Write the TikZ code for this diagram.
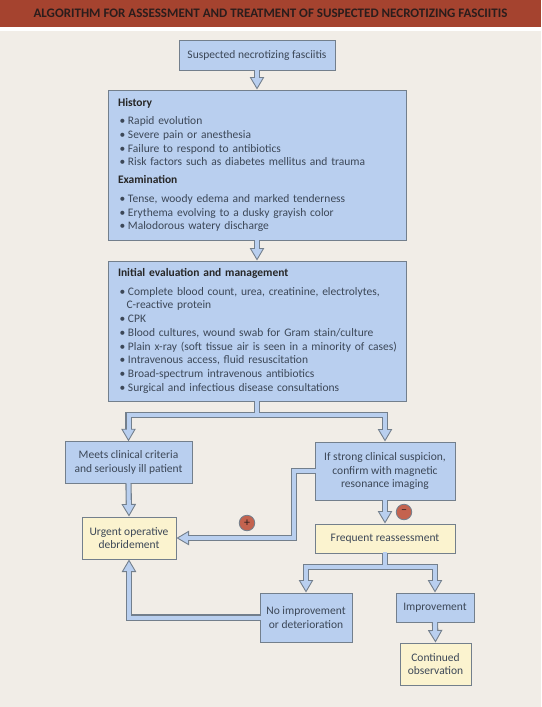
\documentclass[tikz,border=0pt]{standalone}
\usepackage{fontspec}
\setmainfont{Carlito}
\usetikzlibrary{arrows.meta}
\definecolor{bgc}{HTML}{F1EDE7}
\definecolor{hdr}{HTML}{A5432F}
\definecolor{hdrtx}{HTML}{2B1D1C}
\definecolor{blu}{HTML}{B9CFEF}
\definecolor{yel}{HTML}{FBF3CF}
\definecolor{edg}{HTML}{737F8C}
\definecolor{txc}{HTML}{3C4757}
\definecolor{crc}{HTML}{C4634F}
\tikzset{
  x=1pt,y=-1pt,
  anybox/.style={draw=edg,line width=1pt,text=txc,inner sep=0pt,align=center,font=\fontsize{11.5}{13.75}\selectfont},
  bluebox/.style={anybox,fill=blu},
  yelbox/.style={anybox,fill=yel},
  listbox/.style={bluebox,align=left,text width=298pt,inner xsep=0pt},
  fatout/.style={draw=edg,line width=6.2pt,line join=miter,-{Triangle[width=14.5pt,length=12.5pt,fill=blu,color=edg,line width=.9pt]},shorten <=-.4pt},
  fatin/.style={draw=blu,line width=4pt,line join=miter,shorten >=10.5pt,shorten <=-1.2pt},
  sign/.style={circle,draw=edg,fill=crc,line width=.8pt,minimum size=15.5pt,inner sep=0pt,text=hdrtx,font=\fontsize{12}{12}\selectfont},
}
\newcommand\itm[1]{\makebox[10pt][l]{\hspace*{1.5pt}\textbullet}#1}
\newcommand\hd[1]{\textbf{\textcolor{black!85}{#1}}}
\begin{document}
\begin{tikzpicture}
\useasboundingbox (0,0) rectangle (541,707);
\fill[bgc] (0,0) rectangle (541,707);
\fill[white] (0,26) rectangle (541,31);
\node[fill=hdr,minimum width=541pt,minimum height=26.5pt,inner sep=0pt,text=hdrtx,font=\fontsize{13}{14}\selectfont\bfseries] (title) at (270.5,13.25) {ALGORITHM FOR ASSESSMENT AND TREATMENT OF SUSPECTED NECROTIZING FASCIITIS};

\node[bluebox,minimum width=156pt,minimum height=29.5pt] (start) at (257,55.5) {Suspected necrotizing fasciitis};
\node[listbox,minimum height=150pt] (hist) at (257,165) {\hspace*{10pt}\hd{History}\\[4.6pt]
\hspace*{10pt}\itm{Rapid evolution}\\
\hspace*{10pt}\itm{Severe pain or anesthesia}\\
\hspace*{10pt}\itm{Failure to respond to antibiotics}\\
\hspace*{10pt}\itm{Risk factors such as diabetes mellitus and trauma}\\[4.4pt]
\hspace*{10pt}\hd{Examination}\\[4.6pt]
\hspace*{10pt}\itm{Tense, woody edema and marked tenderness}\\
\hspace*{10pt}\itm{Erythema evolving to a dusky grayish color}\\
\hspace*{10pt}\itm{Malodorous watery discharge}};
\node[listbox,minimum height=140pt] (init) at (257,331) {\hspace*{10pt}\hd{Initial evaluation and management}\\[4.6pt]
\hspace*{10pt}\itm{Complete blood count, urea, creatinine, electrolytes,}\\
\hspace*{18.5pt}C-reactive protein\\
\hspace*{10pt}\itm{CPK}\\
\hspace*{10pt}\itm{Blood cultures, wound swab for Gram stain/culture}\\
\hspace*{10pt}\itm{Plain x-ray (soft tissue air is seen in a minority of cases)}\\
\hspace*{10pt}\itm{Intravenous access, fluid resuscitation}\\
\hspace*{10pt}\itm{Broad-spectrum intravenous antibiotics}\\
\hspace*{10pt}\itm{Surgical and infectious disease consultations}};
\node[bluebox,minimum width=127pt,minimum height=41.5pt] (meets) at (128.5,462.5) {Meets clinical criteria\\and seriously ill patient};
\node[bluebox,minimum width=140pt,minimum height=58pt] (mri) at (385,471) {If strong clinical suspicion,\\confirm with magnetic\\resonance imaging};
\node[yelbox,minimum width=94pt,minimum height=42pt] (urgent) at (129,538) {Urgent operative\\debridement};
\node[yelbox,minimum width=140pt,minimum height=29pt] (freq) at (385,538.5) {Frequent reassessment};
\node[bluebox,minimum width=92pt,minimum height=49pt] (noimp) at (306,617.5) {No improvement\\or deterioration};
\node[bluebox,minimum width=78pt,minimum height=29pt] (imp) at (435,607.5) {Improvement};
\node[yelbox,minimum width=71pt,minimum height=42pt] (cont) at (435.5,664) {Continued\\observation};
\node[sign] (plus) at (247,523) {+};
\node[sign] (minus) at (404,512) {–};

\coordinate (s1) at (257,415);
\coordinate (s2) at (385,567);
\coordinate (b1) at (294,471);
\coordinate (b2) at (294,538);

\draw[fatout] (start.south) -- (hist.north);
\draw[fatin] (start.south) -- (hist.north);
\draw[fatout] (hist.south) -- (init.north);
\draw[fatin] (hist.south) -- (init.north);
\draw[fatout] (init.south) -- (s1) -| (meets.north);
\draw[fatout] (init.south) -- (s1) -| (mri.north);
\draw[fatin] (init.south) -- (s1) -| (meets.north);
\draw[fatin] (init.south) -- (s1) -| (mri.north);
\draw[fatout] (meets.south) -- (urgent.north);
\draw[fatin] (meets.south) -- (urgent.north);
\draw[fatout] (mri.south) -- (freq.north);
\draw[fatin] (mri.south) -- (freq.north);
\draw[fatout] (mri.west) -- (b1) -- (b2) -- (urgent.east);
\draw[fatin] (mri.west) -- (b1) -- (b2) -- (urgent.east);
\draw[fatout] (freq.south) -- (s2) -| (noimp.north);
\draw[fatout] (freq.south) -- (s2) -| (imp.north);
\draw[fatin] (freq.south) -- (s2) -| (noimp.north);
\draw[fatin] (freq.south) -- (s2) -| (imp.north);
\draw[fatout] (imp.south) -- (cont.north);
\draw[fatin] (imp.south) -- (cont.north);
\draw[fatout] (noimp.west) -| (urgent.south);
\draw[fatin] (noimp.west) -| (urgent.south);
\end{tikzpicture}
\end{document}
